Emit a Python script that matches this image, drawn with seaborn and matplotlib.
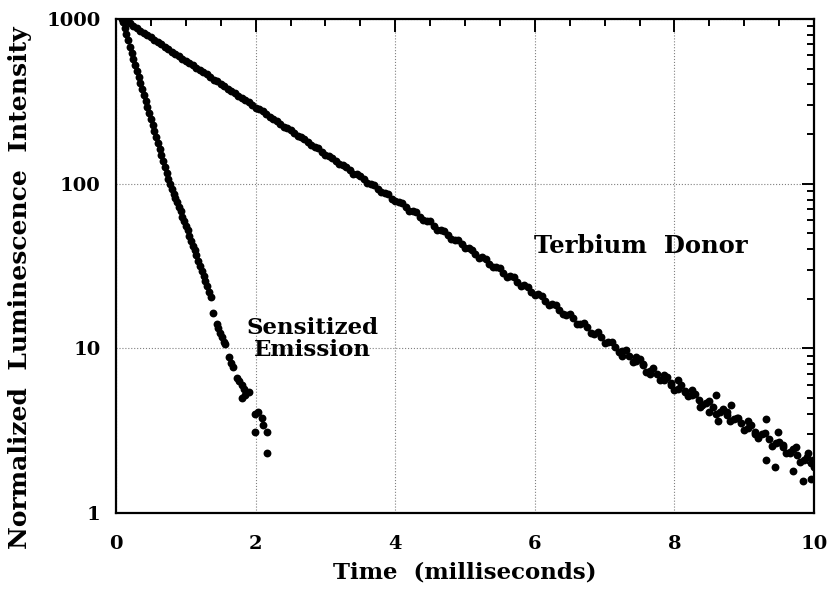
import numpy as np
import pandas as pd
import matplotlib
matplotlib.use("Agg")
import matplotlib.pyplot as plt
import matplotlib.ticker as mticker
import seaborn as sns

# terbium donor decay, main trace (time in ms, normalized intensity)
tb_time = [0.1, 0.2, 0.3, 0.4, 0.5, 0.6, 0.7, 0.8, 0.9, 1.0,
           1.1, 1.2, 1.3, 1.4, 1.5, 1.6, 1.7, 1.8, 1.9, 2.0,
           2.1, 2.2, 2.3, 2.4, 2.5, 2.6, 2.7, 2.8, 2.9, 3.0,
           3.1, 3.2, 3.3, 3.4, 3.5, 3.6, 3.7, 3.8, 3.9, 4.0,
           4.1, 4.2, 4.3, 4.4, 4.5, 4.6, 4.7, 4.8, 4.9, 5.0,
           5.1, 5.2, 5.3, 5.4, 5.5, 5.6, 5.7, 5.8, 5.9, 6.0,
           6.1, 6.2, 6.3, 6.4, 6.5, 6.6, 6.7, 6.8, 6.9, 7.0,
           7.1, 7.2, 7.3, 7.4, 7.5, 7.6, 7.7, 7.8, 7.9, 8.0,
           8.1, 8.2, 8.3, 8.4, 8.5, 8.6, 8.7, 8.8, 8.9, 9.0,
           9.1, 9.2, 9.3, 9.4, 9.5, 9.6, 9.7, 9.8, 9.9, 10.0]
tb_int = [1000, 940, 880, 820, 772, 720, 680, 632, 597, 555,
          524, 487, 460, 428, 405, 375, 355, 330, 312, 289,
          275, 254, 241, 222, 212, 195, 187, 171, 164, 150,
          144, 131, 127, 115, 111, 101, 98, 89, 86, 78,
          76, 68, 67, 60, 59, 52.5, 51.5, 46, 45.5, 40.5,
          39.8, 35.5, 35, 31, 30.8, 27.2, 27, 24, 23.6, 21,
          20.8, 18.4, 18.4, 16.2, 16.1, 14.1, 14.2, 12.4, 12.6, 10.8,
          11.0, 9.5, 9.8, 8.3, 8.6, 7.2, 7.6, 6.4, 6.7, 5.6,
          6.0, 5.1, 5.3, 4.5, 4.8, 4.0, 4.3, 3.6, 3.8, 3.2,
          3.4, 2.85, 3.05, 2.55, 2.7, 2.3, 2.45, 2.05, 2.2, 1.9]

# terbium samples in between (the trace is dense)
tb_time_b = [0.15, 0.25, 0.35, 0.45, 0.55, 0.65, 0.75, 0.85, 0.95, 1.05,
             1.15, 1.25, 1.35, 1.45, 1.55, 1.65, 1.75, 1.85, 1.95, 2.05,
             2.15, 2.25, 2.35, 2.45, 2.55, 2.65, 2.75, 2.85, 2.95, 3.05,
             3.15, 3.25, 3.35, 3.45, 3.55, 3.65, 3.75, 3.85, 3.95, 4.05,
             4.15, 4.25, 4.35, 4.45, 4.55, 4.65, 4.75, 4.85, 4.95, 5.05,
             5.15, 5.25, 5.35, 5.45, 5.55, 5.65, 5.75, 5.85, 5.95, 6.05,
             6.15, 6.25, 6.35, 6.45, 6.55, 6.65, 6.75, 6.85, 6.95, 7.05,
             7.15, 7.25, 7.35, 7.45, 7.55, 7.65, 7.75, 7.85, 7.95, 8.05,
             8.15, 8.25, 8.35, 8.45, 8.55, 8.65, 8.75, 8.85, 8.95, 9.05,
             9.15, 9.25, 9.35, 9.45, 9.55, 9.65, 9.75, 9.85, 9.95]
tb_int_b = [970, 905, 850, 795, 745, 700, 655, 612, 575, 540,
            505, 475, 443, 418, 390, 366, 342, 322, 300, 282,
            264, 248, 231, 218, 203, 191, 179, 168, 156, 148,
            137, 130, 121, 114, 106, 100, 93, 88, 81, 77,
            72, 68.5, 63, 59.5, 55.5, 52, 49, 45.5, 43, 40.5,
            37.2, 35.8, 32.6, 31.2, 28.8, 27.4, 25.3, 24.2, 22.1, 21.3,
            19.4, 18.6, 17.2, 16.0, 15.3, 14.0, 13.4, 12.3, 11.7, 10.9,
            10.2, 9.6, 9.0, 8.4, 8.0, 7.3, 7.0, 6.4, 6.2, 5.7,
            5.5, 5.2, 4.85, 4.65, 4.4, 4.1, 3.95, 3.7, 3.5, 3.3,
            3.1, 3.0, 2.8, 2.65, 2.5, 2.35, 2.25, 2.1, 2.0]

# extra scattered terbium points in the noisy tail
tail_time = [7.25, 7.45, 7.55, 7.65, 7.85, 7.95, 8.05, 8.15, 8.25, 8.37,
             8.49, 8.59, 8.63, 8.81, 8.91, 8.75, 9.05, 9.15, 9.31, 9.49,
             9.31, 9.44, 9.55, 9.65, 9.74, 9.70, 9.84, 9.96, 9.92, 9.98]
tail_int = [9.0, 8.9, 7.9, 7.0, 6.9, 6.0, 6.4, 5.4, 5.6, 4.4,
            4.1, 5.2, 3.6, 4.5, 3.8, 4.1, 3.6, 3.0, 3.7, 3.1,
            2.1, 1.9, 2.6, 2.3, 2.5, 1.8, 1.57, 1.6, 2.3, 2.1]

# sensitized emission decay
se_time = [0.08, 0.10, 0.125, 0.15, 0.175, 0.20, 0.225, 0.25, 0.275, 0.30,
           0.325, 0.35, 0.375, 0.40, 0.425, 0.45, 0.475, 0.50, 0.525, 0.55,
           0.575, 0.60, 0.625, 0.65, 0.675, 0.70, 0.725, 0.75,
           0.775, 0.80, 0.825, 0.85, 0.875, 0.90, 0.925,
           0.95, 0.975, 1.00, 1.025, 1.05, 1.075, 1.10, 1.125, 1.15,
           1.18, 1.205, 1.23, 1.255, 1.28, 1.305, 1.33, 1.355,
           1.39, 1.44, 1.465, 1.49, 1.515, 1.54, 1.56,
           1.625, 1.65, 1.67, 1.73, 1.76, 1.80, 1.84, 1.80, 1.85, 1.91,
           1.99, 2.03, 2.09, 1.99, 2.10, 2.16, 2.17]
se_int = [1000, 955, 875, 805, 740, 680, 625, 575, 528, 485,
          445, 410, 376, 346, 318, 292, 269, 247, 227, 209,
          192, 176, 162, 149, 137, 126, 116, 106,
          99, 93, 87, 82, 77, 72, 68,
          63, 59, 55, 52, 48, 45, 42, 39.5, 37,
          34, 31.5, 29.5, 27.5, 25.5, 23.8, 22, 20.5,
          16.5, 14, 13.2, 12.4, 11.7, 11.0, 10.6,
          8.9, 8.2, 7.7, 6.6, 6.3, 6.0, 5.7, 5.0, 5.2, 5.4,
          4.0, 4.1, 3.8, 3.1, 3.4, 3.1, 2.3]

x_ticks = [0, 2, 4, 6, 8, 10]
y_ticks = [1, 10, 100, 1000]

terbium = pd.DataFrame({"time": tb_time + tb_time_b + tail_time,
                        "intensity": tb_int + tb_int_b + tail_int})
sensitized = pd.DataFrame({"time": se_time, "intensity": se_int})

sns.set_theme(style="white")
plt.rcParams["font.family"] = ["DejaVu Serif"]
plt.rcParams["font.weight"] = "bold"
for key in ["text.color", "axes.labelcolor", "xtick.color", "ytick.color"]:
    plt.rcParams[key] = "black"

fig = plt.figure(figsize=(8.27, 5.92), dpi=100)
ax = fig.add_axes([0.1403, 0.1334, 0.8440, 0.8346])

sns.scatterplot(data=terbium, x="time", y="intensity", ax=ax, color="black",
                s=32, linewidth=0, legend=False)
sns.scatterplot(data=sensitized, x="time", y="intensity", ax=ax, color="black",
                s=32, linewidth=0, legend=False)

ax.set_yscale("log")
ax.set_xlim(0, 10)
ax.set_ylim(1, 1000)
ax.set_xticks(x_ticks)
ax.set_xticklabels([str(t) for t in x_ticks])
ax.xaxis.set_minor_locator(mticker.MultipleLocator(0.5))
ax.set_yticks(y_ticks)
ax.set_yticklabels([str(t) for t in y_ticks])
ax.yaxis.set_minor_locator(mticker.LogLocator(base=10, subs=np.arange(2, 10)))
ax.yaxis.set_minor_formatter(mticker.NullFormatter())

ax.tick_params(which="both", direction="in", top=True, right=True, width=1.4, color="black")
ax.tick_params(which="major", length=9)
ax.tick_params(which="minor", length=5)
ax.tick_params(axis="x", which="major", pad=16, labelsize=14)
ax.tick_params(axis="y", which="major", pad=11, labelsize=14)
for lab in ax.get_xticklabels() + ax.get_yticklabels():
    lab.set_fontweight("bold")

for spine in ax.spines.values():
    spine.set_visible(True)
    spine.set_color("black")
    spine.set_linewidth(1.6)

ax.grid(True, which="major", linestyle=":", color="gray", linewidth=0.8)

ax.set_xlabel("Time  (milliseconds)", fontsize=16.5, fontweight="bold", labelpad=6)
ax.set_ylabel("Normalized  Luminescence  Intensity", fontsize=18, fontweight="bold")
ax.yaxis.set_label_coords(-0.12, 0.457)

ax.text(5.99, 42, "Terbium  Donor", fontsize=17.5, fontweight="bold", ha="left", va="center")
ax.text(2.82, 11.4, "Sensitized\nEmission", fontsize=16.5, fontweight="bold",
        ha="center", va="center", linespacing=0.95)

fig.savefig("out.png", dpi=100)
